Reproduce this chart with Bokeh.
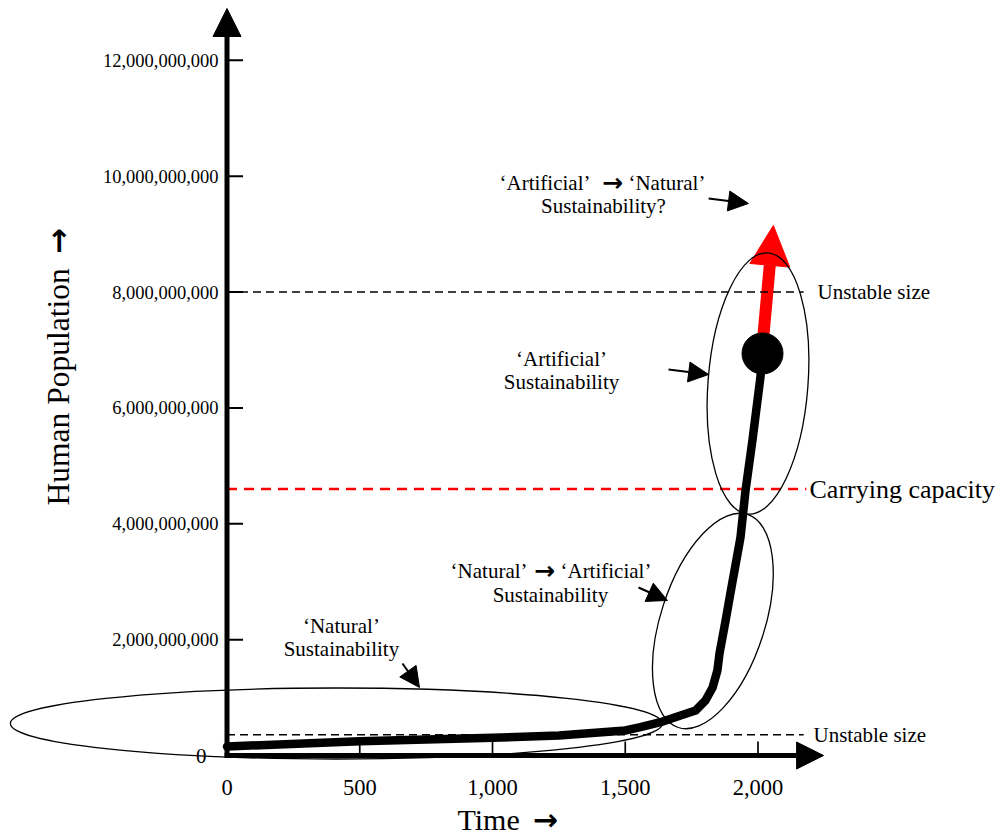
import math
from bokeh.plotting import figure
from bokeh.models import Range1d, Arrow, NormalHead
from bokeh.core.properties import value
from bokeh.embed import file_html
from bokeh.resources import INLINE

# ---------------- data ----------------
years = [0, 500, 1000, 1250, 1500, 1557, 1633, 1708, 1765, 1802, 1829, 1847,
         1855, 1878, 1900, 1934, 1953, 1979, 2009, 2017]
population = [0.155e9, 0.247e9, 0.306e9, 0.345e9, 0.432e9, 0.489e9, 0.575e9,
              0.690e9, 0.777e9, 0.949e9, 1.174e9, 1.467e9, 1.761e9, 2.330e9,
              2.900e9, 3.763e9, 4.574e9, 5.438e9, 6.525e9, 6.94e9]

x_ticks = [0, 500, 1000, 1500, 2000]
x_tick_labels = ["0", "500", "1,000", "1,500", "2,000"]
y_ticks = [2e9, 4e9, 6e9, 8e9, 10e9, 12e9]
y_tick_labels = [f"{int(v):,}" for v in y_ticks]

unstable_upper = 8.0e9
unstable_lower = 0.36e9
carrying_capacity = 4.6e9
ref_line_end = 2172

projection_start = (2021, 7.285e9)
projection_end = (2058, 9.15e9)

axis_x_end = 2247
axis_y_end = 12.895e9

# annotation texts: left part (right-aligned), arrow, right part (left-aligned)
arrow_left_text = ["‘Artificial’", "‘Natural’"]
arrow_left_x = [1369, 1132]
arrow_mid_x = [1452, 1196]
arrow_right_text = ["‘Natural’", "‘Artificial’"]
arrow_right_x = [1512, 1256]
arrow_line_y = [9.89e9, 3.193e9]

ann_text = ["Sustainability?", "‘Artificial’", "Sustainability",
            "Sustainability", "‘Natural’", "Sustainability"]
ann_x = [1418, 1260, 1260, 1218, 431, 431]
ann_y = [9.486e9, 6.853e9, 6.439e9, 2.779e9, 2.244e9, 1.847e9]

pointer_x0 = [661, 1550, 1663, 1814]
pointer_y0 = [1.588e9, 2.900e9, 6.663e9, 9.615e9]
pointer_x1 = [725, 1659, 1814, 1964]
pointer_y1 = [1.174e9, 2.676e9, 6.577e9, 9.529e9]

ell_x = [412, 1830, 2000]
ell_y = [0.552e9, 2.322e9, 6.422e9]
ell_w = [652, 224, 262]
ell_h = [71, 104, 100]
ell_angle_deg = [0, 72, 85.6]

# ---------------- layout ----------------
W, H = 1001, 838
px0, sx = 226.5, 0.2655        # px of year 0, px per year
py0, sy = 755.0, 57.93e-9      # px of pop 0, px per person

FONT = value("Liberation Serif")
ARROW_FONT = value("DejaVu Sans")

p = figure(width=W, height=H,
           x_range=Range1d(-px0 / sx, (W - px0) / sx),
           y_range=Range1d(-(H - py0) / sy, py0 / sy),
           x_axis_type=None, y_axis_type=None,
           toolbar_location=None, output_backend="svg",
           min_border=0, outline_line_color=None,
           background_fill_color="white", border_fill_color="white")

# reference dashed lines
p.segment(x0=0, y0=unstable_upper, x1=ref_line_end, y1=unstable_upper,
          line_color="black", line_width=1.5, line_dash="8 5")
p.segment(x0=0, y0=unstable_lower, x1=ref_line_end, y1=unstable_lower,
          line_color="black", line_width=1.5, line_dash="8 5")
p.segment(x0=0, y0=carrying_capacity, x1=ref_line_end + 10, y1=carrying_capacity,
          line_color="red", line_width=2.5, line_dash="10 7")

# population curve
p.line(years, population, line_color="black", line_width=8.5,
       line_cap="round", line_join="round")

# ellipses
p.ellipse(x=ell_x, y=ell_y, width=ell_w, height=ell_h,
          angle=[math.radians(a) for a in ell_angle_deg],
          width_units="screen", height_units="screen",
          fill_color=None, line_color="black", line_width=1.3)

# red projection arrow (under the dot and ellipse)
red = Arrow(end=NormalHead(size=40, fill_color="red", line_color="red"),
            x_start=projection_start[0], y_start=projection_start[1],
            x_end=projection_end[0], y_end=projection_end[1],
            line_color="red", line_width=12, level="underlay")
p.add_layout(red)

# present-day dot
p.scatter(x=[years[-1]], y=[population[-1]], size=41, marker="circle",
          fill_color="black", line_color="black")

# axes arrows
p.add_layout(Arrow(end=NormalHead(size=28, fill_color="black", line_color="black"),
                   x_start=0, y_start=-0.04e9, x_end=0, y_end=axis_y_end,
                   line_color="black", line_width=5))
p.add_layout(Arrow(end=NormalHead(size=27, fill_color="black", line_color="black"),
                   x_start=-9, y_start=0, x_end=axis_x_end, y_end=0,
                   line_color="black", line_width=5))

# ticks
p.ray(x=0, y=y_ticks, length=16, length_units="screen", angle=0,
      line_color="black", line_width=2)
p.ray(x=x_ticks[1:], y=0, length=14, length_units="screen", angle=math.pi / 2,
      line_color="black", line_width=1.7)

# tick labels
p.text(x=0, y=y_ticks, text=y_tick_labels, text_font=FONT,
       text_font_size="18.5px", text_align="right", text_baseline="middle",
       x_offset=-8.5, text_color="black")
p.text(x=[0], y=[0], text=["0"], text_font=FONT, text_font_size="21px",
       text_align="right", text_baseline="middle", x_offset=-20.5,
       text_color="black")
p.text(x=x_ticks, y=0, text=x_tick_labels, text_font=FONT,
       text_font_size="22.5px", text_align="center", text_baseline="middle",
       y_offset=31.5, text_color="black")

# axis titles
p.text(x=[868], y=[-1.102e9], text=["Time"], text_font=FONT,
       text_font_size="30px", text_align="left", text_baseline="middle",
       text_color="black")
p.text(x=[1199], y=[-1.102e9], text=["→"], text_font=ARROW_FONT,
       text_font_size="30px", text_font_style="bold", text_align="center",
       text_baseline="middle", text_color="black")
p.text(x=[-636], y=[4.316e9], text=["Human Population"], text_font=FONT,
       text_font_size="31.5px", text_align="left", text_baseline="middle",
       angle=math.pi / 2, text_color="black")
p.text(x=[-638], y=[8.882e9], text=["→"], text_font=ARROW_FONT,
       text_font_size="31px", text_font_style="bold", text_align="center",
       text_baseline="middle", angle=math.pi / 2, text_color="black")

# reference line labels
p.text(x=[2224, 2209], y=[unstable_upper, unstable_lower],
       text=["Unstable size", "Unstable size"], text_font=FONT,
       text_font_size="21px", text_align="left", text_baseline="middle",
       text_color="black")
p.text(x=[2194], y=[carrying_capacity], text=["Carrying capacity"],
       text_font=FONT, text_font_size="26px", text_align="left",
       text_baseline="middle", text_color="black")

# annotation texts
p.text(x=arrow_left_x, y=arrow_line_y, text=arrow_left_text, text_font=FONT,
       text_font_size="21px", text_align="right", text_baseline="middle",
       text_color="black")
p.text(x=arrow_mid_x, y=arrow_line_y, text=["→"] * len(arrow_mid_x),
       text_font=ARROW_FONT, text_font_size="25px", text_font_style="bold",
       text_align="center", text_baseline="middle", text_color="black")
p.text(x=arrow_right_x, y=arrow_line_y, text=arrow_right_text, text_font=FONT,
       text_font_size="21px", text_align="left", text_baseline="middle",
       text_color="black")
p.text(x=ann_x, y=ann_y, text=ann_text, text_font=FONT, text_font_size="21px",
       text_align="center", text_baseline="middle", text_color="black")

# pointer arrows
for x0, y0, x1, y1 in zip(pointer_x0, pointer_y0, pointer_x1, pointer_y1):
    p.add_layout(Arrow(end=NormalHead(size=20, fill_color="black", line_color="black"),
                       x_start=x0, y_start=y0, x_end=x1, y_end=y1,
                       line_color="black", line_width=2))

open("out.html", "w").write(file_html(p, INLINE))
